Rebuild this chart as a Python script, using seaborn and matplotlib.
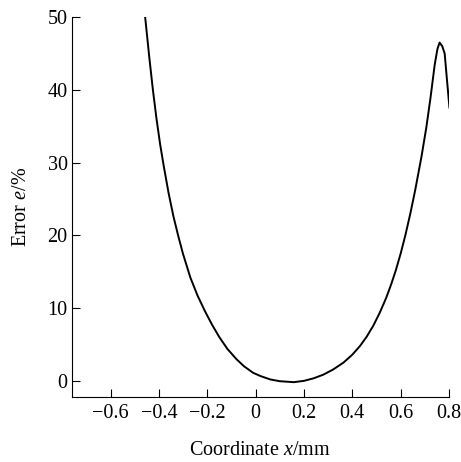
import numpy as np
import pandas as pd
import matplotlib
matplotlib.use("Agg")
import matplotlib.pyplot as plt
import seaborn as sns

# values
coord_x = [-0.457, -0.440, -0.425, -0.410, -0.395, -0.380, -0.360, -0.340,
           -0.320, -0.300, -0.270, -0.240, -0.210, -0.180, -0.150, -0.117,
           -0.080, -0.048, -0.010, 0.021, 0.060, 0.100, 0.158, 0.200,
           0.240, 0.280, 0.320, 0.363, 0.400, 0.432, 0.460, 0.487,
           0.514, 0.540, 0.560, 0.580, 0.600, 0.620, 0.640, 0.660,
           0.686, 0.706, 0.723, 0.741, 0.752, 0.761, 0.772, 0.782,
           0.792, 0.802]
error_e = [50.0, 44.5, 40.0, 36.0, 32.5, 29.5, 25.8, 22.6,
           19.9, 17.4, 14.2, 11.7, 9.6, 7.7, 6.0, 4.4,
           3.0, 2.0, 1.1, 0.65, 0.2, -0.05, -0.18, 0.0,
           0.35, 0.85, 1.55, 2.5, 3.6, 4.8, 6.1, 7.6,
           9.4, 11.4, 13.2, 15.2, 17.5, 20.1, 23.0, 26.2,
           30.8, 34.8, 38.8, 43.5, 45.6, 46.5, 46.0, 45.0,
           41.2, 37.5]
x_ticks = [-0.6, -0.4, -0.2, 0, 0.2, 0.4, 0.6, 0.8]
x_tick_labels = ["\u22120.6", "\u22120.4", "\u22120.2", "0", "0.2", "0.4", "0.6", "0.8"]
y_ticks = [0, 10, 20, 30, 40, 50]

df = pd.DataFrame({"x": coord_x, "e": error_e})

sns.set_theme(style="ticks")
plt.rcParams["font.family"] = ["Liberation Serif", "DejaVu Serif"]
plt.rcParams["mathtext.fontset"] = "custom"
plt.rcParams["mathtext.it"] = "Liberation Serif:italic"
plt.rcParams["mathtext.rm"] = "Liberation Serif"

fig = plt.figure(figsize=(4.61, 4.62), dpi=100)
ax = fig.add_axes([0.156, 0.141, 0.818, 0.822])

sns.lineplot(data=df, x="x", y="e", ax=ax, color="black", linewidth=1.4, sort=False)

ax.set_xlim(-0.76, 0.8)
ax.set_ylim(-2.2, 50)
ax.set_xticks(x_ticks)
ax.set_xticklabels(x_tick_labels)
ax.set_yticks(y_ticks)
ax.tick_params(direction="in", length=6, width=0.8, labelsize=14.5, colors="black")
ax.tick_params(axis="x", pad=5)
ax.tick_params(axis="y", pad=3)
for s in ["top", "right"]:
    ax.spines[s].set_visible(False)
for s in ["left", "bottom"]:
    ax.spines[s].set_linewidth(0.8)
    ax.spines[s].set_color("black")

ax.set_xlabel("Coordinate $x$/mm", fontsize=14.5, labelpad=13, color="black")
ax.set_ylabel("Error $e$/%", fontsize=14.5, labelpad=12, color="black")

fig.savefig("out.png", dpi=100, facecolor="white")
